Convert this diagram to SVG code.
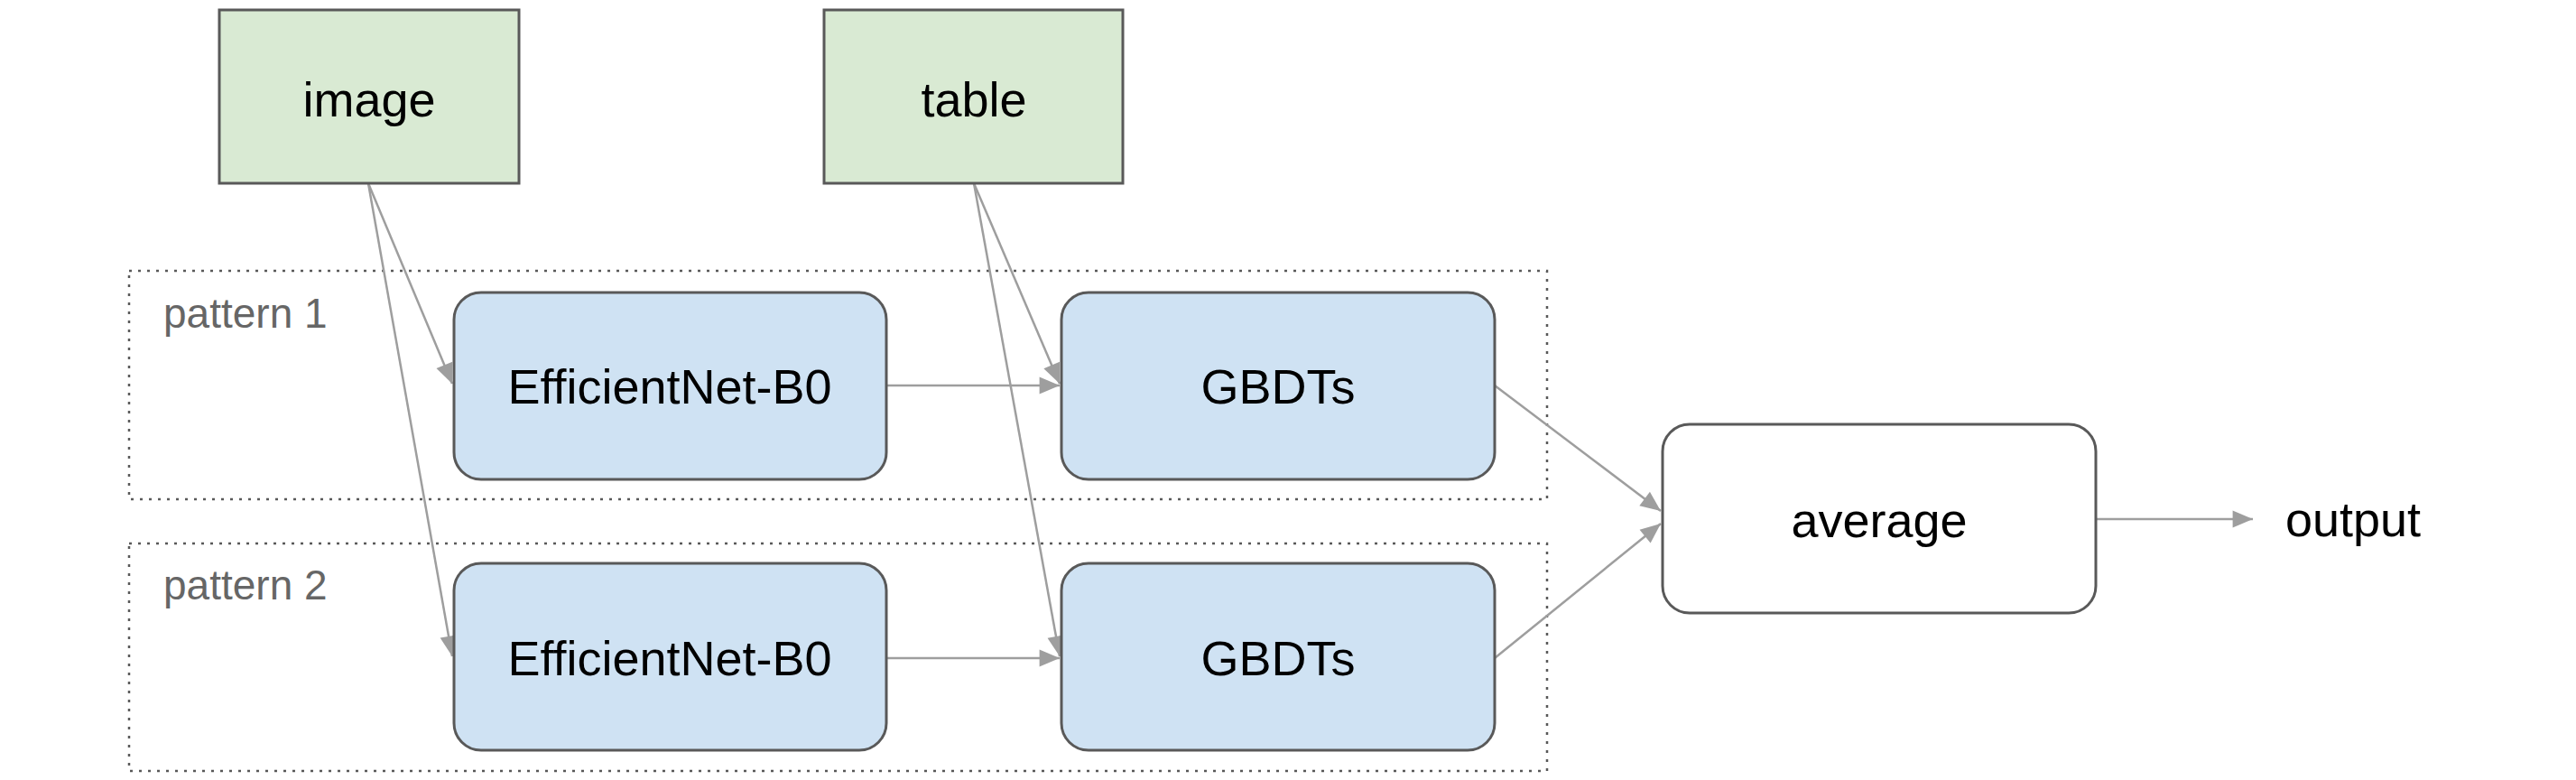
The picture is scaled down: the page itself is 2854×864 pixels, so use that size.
<svg xmlns="http://www.w3.org/2000/svg" width="2854" height="864" viewBox="0 0 2854 864">
<style>
text{font-family:"Liberation Sans",Arial,sans-serif;text-anchor:middle;dominant-baseline:central;fill:#000;font-size:54px}
.in{fill:#d9ead3;stroke:#595959;stroke-width:3}
.m{fill:#cfe2f3;stroke:#595959;stroke-width:3}
.av{fill:#fff;stroke:#595959;stroke-width:3}
.grp{fill:none;stroke:#595959;stroke-width:2.5;stroke-dasharray:3 7}
.lbl{fill:#666;font-size:46px;text-anchor:start}
.c{stroke:#9e9e9e;stroke-width:2.5;fill:none;marker-end:url(#ah)}
</style>
<defs><marker id="ah" viewBox="0 0 10 10" refX="10" refY="5" markerWidth="10" markerHeight="8" markerUnits="userSpaceOnUse" orient="auto" overflow="visible"><path d="M-18,-7 L10,5 L-18,17 z" fill="#9e9e9e" transform="translate(0,0)"/></marker></defs>
<g id="pattern1"><rect class="grp" x="143" y="300" width="1571" height="253"/><text class="lbl" x="181" y="347">pattern 1</text></g>
<g id="pattern2"><rect class="grp" x="143" y="602" width="1571" height="252"/><text class="lbl" x="181" y="648">pattern 2</text></g>
<g id="connectors">
<path class="c" d="M408,203 L501,425"/>
<path class="c" d="M408,203 L501,727"/>
<path class="c" d="M1079,203 L1174,425"/>
<path class="c" d="M1079,203 L1174,727"/>
<path class="c" d="M982,427 L1174,427"/>
<path class="c" d="M982,729 L1174,729"/>
<path class="c" d="M1656,427 L1840,566"/>
<path class="c" d="M1656,729 L1840,580"/>
<path class="c" d="M2322,575 L2496,575"/>
</g>
<g id="image"><rect class="in" x="243" y="11" width="332" height="192"/><text x="409" y="110">image</text></g>
<g id="table"><rect class="in" x="913" y="11" width="331" height="192"/><text x="1079" y="110">table</text></g>
<g id="eff1"><rect class="m" x="503" y="324" width="479" height="207" rx="30"/><text x="742" y="428">EfficientNet-B0</text></g>
<g id="gbdt1"><rect class="m" x="1176" y="324" width="480" height="207" rx="30"/><text x="1416" y="428">GBDTs</text></g>
<g id="eff2"><rect class="m" x="503" y="624" width="479" height="207" rx="30"/><text x="742" y="729">EfficientNet-B0</text></g>
<g id="gbdt2"><rect class="m" x="1176" y="624" width="480" height="207" rx="30"/><text x="1416" y="729">GBDTs</text></g>
<g id="average"><rect class="av" x="1842" y="470" width="480" height="209" rx="30"/><text x="2082" y="576">average</text></g>
<g id="output"><text x="2607" y="575">output</text></g>
</svg>
